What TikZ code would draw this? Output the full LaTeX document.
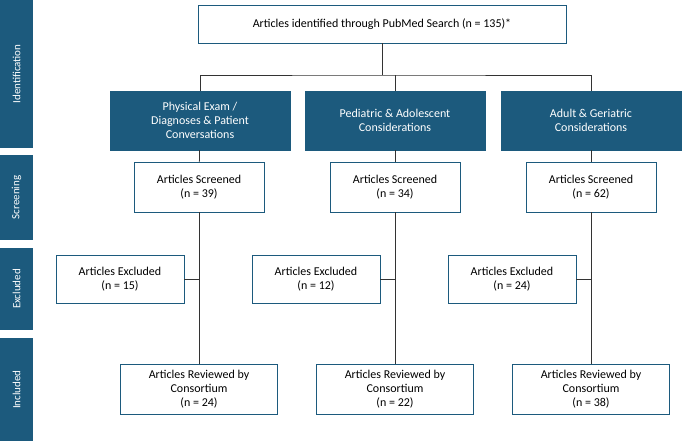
\documentclass[tikz,border=0pt]{standalone}
\usepackage{fontspec}
\setmainfont{Carlito}
\begin{document}
\begin{tikzpicture}[x=1pt,y=-1pt,
 side/.style={draw=none,fill=dblue,text=white,minimum height=33pt,inner sep=0pt,font=\fontsize{11}{12}\selectfont},
 cat/.style={draw=dblue,fill=dblue,text=white,minimum width=180pt,minimum height=59pt,align=center,font=\fontsize{12}{14}\selectfont},
 box/.style={draw=dblue,fill=white,line width=0.8pt,align=center,font=\fontsize{12}{14}\selectfont},
 ln/.style={draw=black!80,line width=0.8pt}]
\definecolor{dblue}{HTML}{1C5A7D}
\useasboundingbox (0,0) rectangle (685,442);
\foreach \n/\t/\a/\b in {id/Identification/0/148,sc/Screening/155/240,ex/Excluded/248/330,in/Included/338/441}{
 \pgfmathsetmacro\len{\b-\a}
 \node[side,minimum width=\len pt,rotate=90] (\n) at (16.5,{(\a+\b)/2}) {\t};}
\node[box,minimum width=368pt,minimum height=38pt] (top) at (382,24) {Articles identified through PubMed Search (n = 135)*};
\node[cat] (c1) at (200,120.5) {Physical Exam /\\Diagnoses \& Patient\\Conversations};
\node[cat] (c2) at (395,120.5) {Pediatric \& Adolescent\\Considerations};
\node[cat] (c3) at (591,120.5) {Adult \& Geriatric\\Considerations};
\coordinate (j) at (382,75);
\draw[ln] (top) -- (j);
\draw[ln] (c1.north) |- (j) -| (c3.north);
\draw[ln] (c2.north) -- (c2.north |- j);
\foreach \i/\x/\s/\e/\r in {1/199/39/15/24,2/395/34/12/22,3/591/62/24/38}{
 \node[box,minimum width=130pt,minimum height=50pt] (s\i) at (\x,187) {Articles Screened\\(n = \s)};
 \node[box,minimum width=128pt,minimum height=48pt] (e\i) at ({\x-79},279) {Articles Excluded\\(n = \e)};
 \node[box,minimum width=157pt,minimum height=50pt] (r\i) at (\x,389) {Articles Reviewed by\\Consortium\\(n = \r)};
 \draw[ln] (c\i) -- (s\i);
 \draw[ln] (s\i) -- (r\i);
 \draw[ln] (e\i.east) -- (e\i.east -| s\i);
}
\end{tikzpicture}
\end{document}
